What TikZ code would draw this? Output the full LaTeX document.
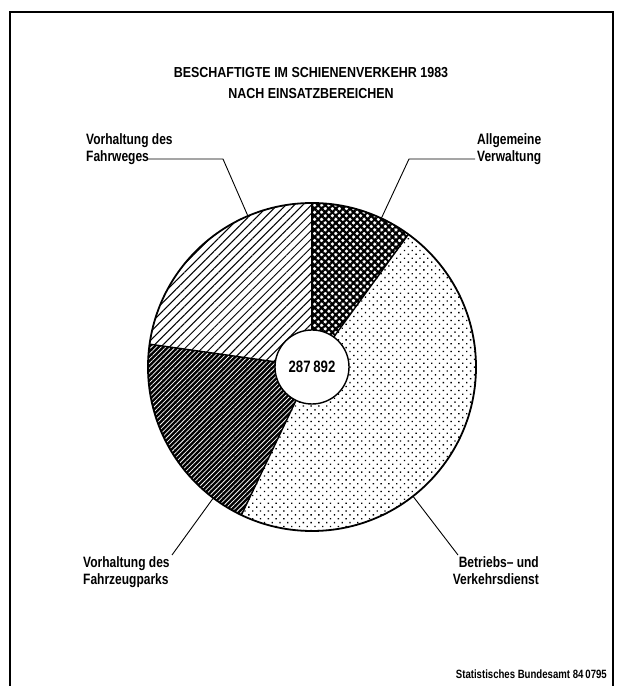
\documentclass[tikz,border=0pt]{standalone}
\usepackage{fontspec}
\setmainfont[FakeStretch=0.8]{Liberation Sans}
\newfontfamily\titlefont[FakeStretch=0.86]{Liberation Sans}
\usepackage{tikz}
\usetikzlibrary{
        calc,
        patterns.meta,
        positioning
    }
\tikzset{x=1pt,y=1pt}
\tikzset{
    wedge/.style={line width=1.4pt,line join=round},
    leader/.style={draw,line width=0.9pt},
    lbl/.style={inner sep=0pt,align=left,font=\fontsize{15}{17}\selectfont\bfseries},
    heading/.style={inner sep=0pt,align=center,font=\titlefont\fontsize{14.5}{21}\selectfont\bfseries}
}

\begin{document}
\begin{tikzpicture}[]
    \useasboundingbox (0,0) rectangle (620,686);
    \draw[line width=1.2pt] (10,0) -- (10,674) -- (613,674) -- (613,0);
    \node[heading] (title) at (311,619) [anchor=north]
        {BESCHAFTIGTE IM SCHIENENVERKEHR 1983\\NACH EINSATZBEREICHEN};

    \coordinate (c) at (312,319);
    % Sektoren
    \path[wedge,pattern={Hatch[angle=45,distance=5pt,line width=2.2pt]}]
        (c) -- ++(54:164) arc[start angle=54,end angle=90,radius=164] -- cycle;
    \path[wedge,pattern={Lines[angle=45,distance=6pt,line width=1pt]}]
        (c) -- ++(90:164) arc[start angle=90,end angle=172,radius=164] -- cycle;
    \path[wedge,fill=black,postaction={pattern={Lines[angle=45,distance=3.4pt,line width=0.75pt]},pattern color=white}]
        (c) -- ++(172:164) arc[start angle=172,end angle=244.5,radius=164] -- cycle;
    \path[wedge,pattern={Dots[angle=45,distance=5.5pt,radius=0.95pt]}]
        (c) -- ++(244.5:164) arc[start angle=244.5,end angle=414,radius=164] -- cycle;
    \foreach \a in {54,90,172,244.5}
        \draw[wedge] (c) -- ++(\a:164);
    \draw[line width=1.8pt] (c) circle[radius=164];
    \node[circle,draw,fill=white,line width=1.4pt,minimum size=74pt,inner sep=0pt,
          font=\fontsize{16.5}{18}\selectfont\bfseries] (total) at (c) {287\,892};

    % Beschriftungen
    \node[lbl,anchor=north west] (fahrweg) at (86,553) {Vorhaltung des\\Fahrweges};
    \node[lbl,anchor=north west] (verwaltung) at (477,553) {Allgemeine\\Verwaltung};
    \node[lbl,anchor=north west] (fahrzeug) at (83,130) {Vorhaltung des\\Fahrzeugparks};
    \node[lbl,anchor=north east,align=right] (betrieb) at (539,130) {Betriebs-- und\\Verkehrsdienst};

    \coordinate (fw0) at ($(c)+(113:164)$);
    \coordinate (fw1) at (223,527);
    \coordinate (fw2) at (147,527);
    \coordinate (av0) at ($(c)+(65:164)$);
    \coordinate (av1) at (409,527);
    \coordinate (av2) at (475,527);
    \coordinate (fz0) at ($(c)+(233:164)$);
    \coordinate (fz1) at (172,131);
    \coordinate (bv0) at ($(c)+(-52:164)$);
    \coordinate (bv1) at (458,131);
    \path[leader]
        (fw0) -- (fw1) -- (fw2)
        (av0) -- (av1) -- (av2)
        (fz0) -- (fz1)
        (bv0) -- (bv1);

    \node[inner sep=0pt,anchor=base east,font=\fontsize{12}{14}\selectfont\bfseries]
        (quelle) at (607,8) {Statistisches Bundesamt 84\,0795};
\end{tikzpicture}
\end{document}
